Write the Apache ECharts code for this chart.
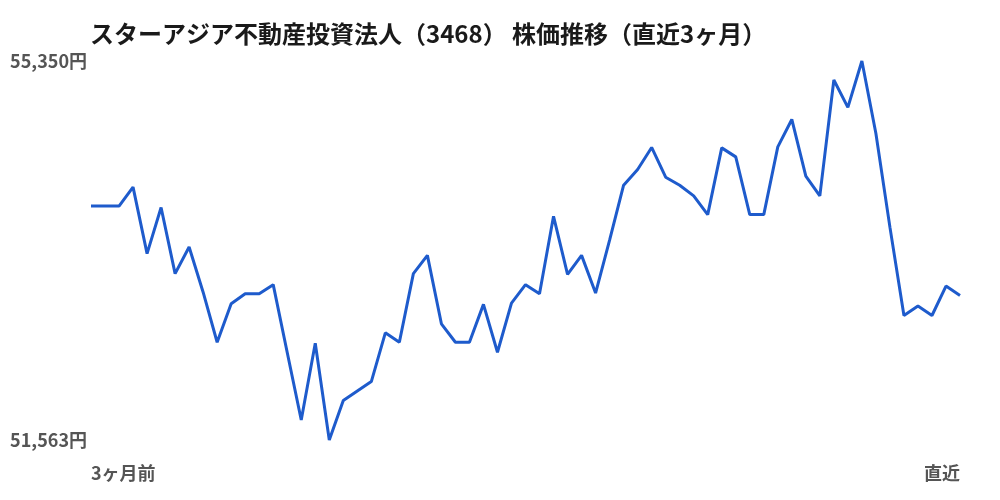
<!DOCTYPE html>
<html>
<head>
<meta charset="utf-8">
<script src="https://cdn.jsdelivr.net/npm/echarts@6/dist/echarts.min.js"></script>
<style>
    html, body { margin: 0; padding: 0; background: #fff; }
    #chart { width: 1000px; height: 500px; }
</style>
</head>
<body>
<div id="chart"></div>
<script>
// 直近3ヶ月の終値（63営業日）
var prices = [
    53900, 53900, 53900, 54090, 53425, 53886, 53225, 53491, 53040, 52540,
    52925, 53025, 53025, 53115, 52437, 51763, 52530, 51563, 51957, 52052,
    52147, 52634, 52540, 53225, 53408, 52724, 52540, 52540, 52918, 52440,
    52931, 53115, 53025, 53798, 53218, 53408, 53031, 53560, 54109, 54266,
    54486, 54189, 54109, 54002, 53815, 54482, 54392, 53815, 53815, 54492,
    54766, 54199, 54002, 55160, 54887, 55350, 54626, 53690, 52807, 52901,
    52807, 53101, 53008
];
var days = prices.map(function (v, i) { return i; });
var startLabel = '3ヶ月前';
var endLabel = '直近';
var titleText = 'スターアジア不動産投資法人（3468） 株価推移（直近3ヶ月）';

var priceMin = Math.min.apply(null, prices);
var priceMax = Math.max.apply(null, prices);

$ready();

function $ready() {
    var chartDom = document.getElementById('chart');
    var myChart = echarts.init(chartDom);
    var font = '"Noto Sans CJK JP", "Noto Sans", sans-serif';
    var option;

    option = {
        animation: false,
        title: {
            text: titleText,
            left: 85,
            top: 17,
            textStyle: {
                fontFamily: font,
                fontSize: 24,
                fontWeight: 'bold',
                color: '#1a1a1a'
            }
        },
        grid: {
            left: 91,
            right: 40,
            top: 61,
            bottom: 60
        },
        xAxis: {
            type: 'category',
            data: days,
            boundaryGap: false,
            axisLine: { show: false },
            axisTick: { show: false },
            splitLine: { show: false },
            axisLabel: {
                interval: function (i) { return i === 0 || i === days.length - 1; },
                formatter: function (v, i) { return i === 0 ? startLabel : endLabel; },
                alignMinLabel: 'left',
                alignMaxLabel: 'right',
                margin: 24,
                fontFamily: font,
                fontSize: 18,
                fontWeight: 'bold',
                color: '#555'
            }
        },
        yAxis: {
            type: 'value',
            min: priceMin,
            max: priceMax,
            axisLine: { show: false },
            axisTick: { show: false },
            splitLine: { show: false },
            axisLabel: {
                customValues: [priceMin, priceMax],
                formatter: function (v) { return v.toLocaleString('en-US') + '円'; },
                margin: 4,
                fontFamily: font,
                fontSize: 18,
                fontWeight: 'bold',
                color: '#555'
            }
        },
        series: [
            {
                type: 'line',
                data: prices,
                symbol: 'none',
                lineStyle: {
                    color: '#1e5bcc',
                    width: 3
                }
            }
        ]
    };

    option && myChart.setOption(option);
}
</script>
</body>
</html>
